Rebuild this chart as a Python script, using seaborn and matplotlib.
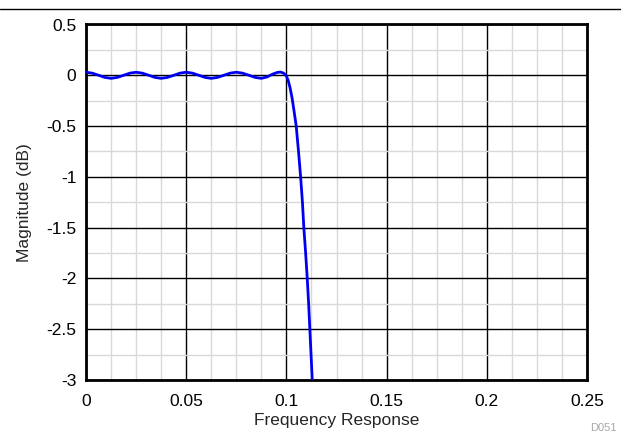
import matplotlib
matplotlib.use("Agg")
import matplotlib.pyplot as plt
import seaborn as sns
import pandas as pd
from matplotlib.ticker import MultipleLocator

freq = [0.0000, 0.0031, 0.0063, 0.0094, 0.0125, 0.0156, 0.0188, 0.0219,
        0.0250, 0.0281, 0.0313, 0.0344, 0.0375, 0.0406, 0.0438, 0.0469,
        0.0500, 0.0531, 0.0563, 0.0594, 0.0625, 0.0656, 0.0688, 0.0719,
        0.0750, 0.0781, 0.0813, 0.0844, 0.0875, 0.0904, 0.0932, 0.0955,
        0.0970, 0.0985, 0.0998, 0.1008, 0.1018, 0.1028, 0.1038, 0.1049,
        0.1060, 0.1071, 0.1080, 0.1087, 0.1096, 0.1104, 0.1111, 0.1117,
        0.1123, 0.1129, 0.1135]
mag_db = [0.030, 0.021, 0.000, -0.021, -0.030, -0.021, 0.000, 0.021,
          0.030, 0.021, 0.000, -0.021, -0.030, -0.021, 0.000, 0.021,
          0.030, 0.021, 0.000, -0.021, -0.030, -0.021, 0.000, 0.021,
          0.030, 0.021, 0.000, -0.021, -0.030, -0.016, 0.012, 0.028,
          0.032, 0.022, 0.000, -0.045, -0.12, -0.22, -0.35, -0.50,
          -0.74, -1.00, -1.25, -1.50, -1.75, -2.00, -2.25, -2.50,
          -2.75, -3.00, -3.30]

x_ticks = [0, 0.05, 0.1, 0.15, 0.2, 0.25]
x_tick_labels = ["0", "0.05", "0.1", "0.15", "0.2", "0.25"]
y_ticks = [-3, -2.5, -2, -1.5, -1, -0.5, 0, 0.5]
y_tick_labels = ["-3", "-2.5", "-2", "-1.5", "-1", "-0.5", "0", "0.5"]

df = pd.DataFrame({"Frequency": freq, "Magnitude": mag_db})

sns.set_theme(style="white")
plt.rcParams["font.family"] = ["Liberation Sans", "DejaVu Sans"]

fig = plt.figure(figsize=(6.21, 4.36), dpi=100)
ax = fig.add_axes([86/621, 1 - 380/436, (587-86)/621, (380-24.5)/436])

sns.lineplot(data=df, x="Frequency", y="Magnitude", ax=ax, color="#0000f0",
             linewidth=2, zorder=5)

ax.set_xlim(0, 0.25)
ax.set_ylim(-3, 0.5)
ax.set_xticks(x_ticks)
ax.set_xticklabels(x_tick_labels)
ax.set_yticks(y_ticks)
ax.set_yticklabels(y_tick_labels)
ax.xaxis.set_minor_locator(MultipleLocator(0.0125))
ax.yaxis.set_minor_locator(MultipleLocator(0.25))
ax.grid(which="major", color="black", linewidth=1.0, zorder=1)
ax.grid(which="minor", color="#d9d9d9", linewidth=1.0, zorder=0)
ax.set_axisbelow(True)
ax.tick_params(which="both", length=0, labelsize=12.5, colors="black")
ax.tick_params(axis="x", pad=10)
ax.tick_params(axis="y", pad=7)
for s in ax.spines.values():
    s.set_color("black")
    s.set_linewidth(2)

ax.set_xlabel("Frequency Response", fontsize=12.5, labelpad=3)
ax.set_ylabel("Magnitude (dB)", fontsize=12.5, labelpad=10)

fig.add_artist(plt.Line2D([0, 1], [1 - 9.5/436, 1 - 9.5/436],
                          transform=fig.transFigure, color="black", linewidth=1))
fig.text(603/621, 1 - 428/436, "D051", fontsize=8, color="#a8a8a8",
         ha="center", va="center")

fig.savefig("out.png", dpi=100)
